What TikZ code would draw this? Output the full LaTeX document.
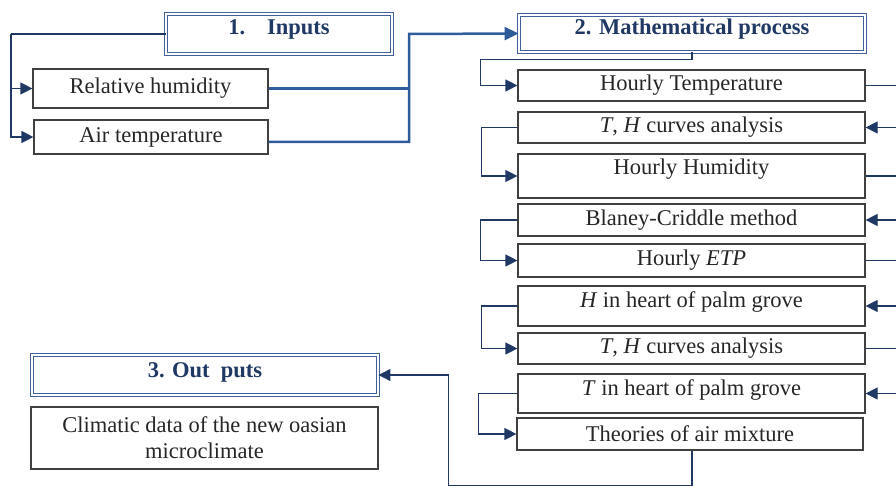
\documentclass[tikz,border=0pt]{standalone}
\usepackage{fontspec}
\setmainfont{Liberation Serif}
\usetikzlibrary{arrows.meta}
\definecolor{navy}{HTML}{1F3864}
\definecolor{steel}{HTML}{2E5C9A}
\definecolor{framecol}{HTML}{41609C}
\definecolor{boxline}{HTML}{404040}
\definecolor{boxtext}{HTML}{262626}
\begin{document}
\begin{tikzpicture}[
    x=1pt, y=-1pt,
    every node/.style={font=\fontsize{22.5}{26}\selectfont},
    box/.style={rectangle, draw=boxline, line width=1.2pt, text=boxtext, minimum width=347pt, inner sep=0pt, align=center},
    header/.style={rectangle, draw=framecol, double=white, double distance=2pt, line width=0.9pt, text=navy, font=\fontsize{22.5}{26}\selectfont\bfseries, inner sep=0pt},
    arrow/.style={-{Triangle[length=12pt,width=12pt]}, draw=navy, line width=1.2pt},
    link/.style={draw=navy, line width=1.2pt},
    thickline/.style={draw=steel, line width=2.5pt},
    thickarrow/.style={thickline, -{Triangle[length=14pt,width=13pt]}}
]
    \useasboundingbox (0,0) rectangle (896,486);

    \node[header, minimum width=226pt, text height=21pt, text depth=19pt] (inputs) at (279,34) {1.\hspace{22pt}Inputs};
    \node[box, minimum width=235pt, minimum height=39pt] (rh) at (150.5,88.5) {Relative humidity};
    \node[box, minimum width=234pt, minimum height=34pt] (air) at (151,137) {Air temperature};

    \node[header, minimum width=346pt, text height=20pt, text depth=17pt] (math) at (692,33.5) {2. Mathematical process};
    \node[box, minimum height=31pt] (ht) at (691.5,85.5) {Hourly Temperature};
    \node[box, minimum height=31pt] (th1) at (691.5,127.5) {\textit{T}, \textit{H} curves analysis};
    \node[box, text height=21pt, text depth=23pt] (hh) at (691.5,176) {Hourly Humidity};
    \node[box, minimum height=32pt] (bc) at (691.5,220) {Blaney-Criddle method};
    \node[box, minimum height=33pt] (etp) at (691.5,260.5) {Hourly \textit{ETP}};
    \node[box, text height=21pt, text depth=19pt] (hheart) at (691.5,306) {\textit{H} in heart of palm grove};
    \node[box, minimum height=31pt] (th2) at (691.5,348.5) {\textit{T}, \textit{H} curves analysis};
    \node[box, text height=21pt, text depth=18pt] (theart) at (691.5,393.5) {\textit{T} in heart of palm grove};
    \node[box, minimum width=346pt, minimum height=32pt] (mix) at (690,434) {Theories of air mixture};

    \node[header, minimum width=346pt, text height=22pt, text depth=18pt] (outputs) at (205,375) {3. Out\ \ puts};
    \node[box, minimum height=62pt] (climate) at (204.5,438) {Climatic data of the new oasian\\microclimate};

    \coordinate (split) at (11,34);
    \coordinate (join) at (409,34);
    \draw[link] (inputs.west) -- (split);
    \draw[arrow] (split) |- (rh.west);
    \draw[arrow] (split) |- (air.west);
    \draw[thickline] (rh.east) -- (rh.east -| join);
    \draw[thickarrow] ([yshift=-5pt]air.east) -| (join) -- (math.west);

    \draw[arrow] (math.south) -- ++(0,7) -| ([xshift=-37pt]ht.west) -- (ht.west);
    \draw[arrow] (th1.west) -- ++(-36,0) |- (hh.west);
    \draw[arrow] (bc.west) -- ++(-37,0) |- (etp.west);
    \draw[arrow] (hheart.west) -- ++(-36,0) |- (th2.west);
    \draw[arrow] (theart.west) -- ++(-39,0) |- (mix.west);

    \draw[arrow] (ht.east) -- ++(45,0) |- (th1.east);
    \draw[arrow] (hh.east) -- ++(45,0) |- (bc.east);
    \draw[arrow] (etp.east) -- ++(45,0) |- (hheart.east);
    \draw[arrow] (th2.east) -- ++(45,0) |- (theart.east);

    \draw[arrow] ([xshift=2pt]mix.south) -- ++(0,35) -| ([xshift=70pt]outputs.east) -- (outputs.east);
\end{tikzpicture}
\end{document}
